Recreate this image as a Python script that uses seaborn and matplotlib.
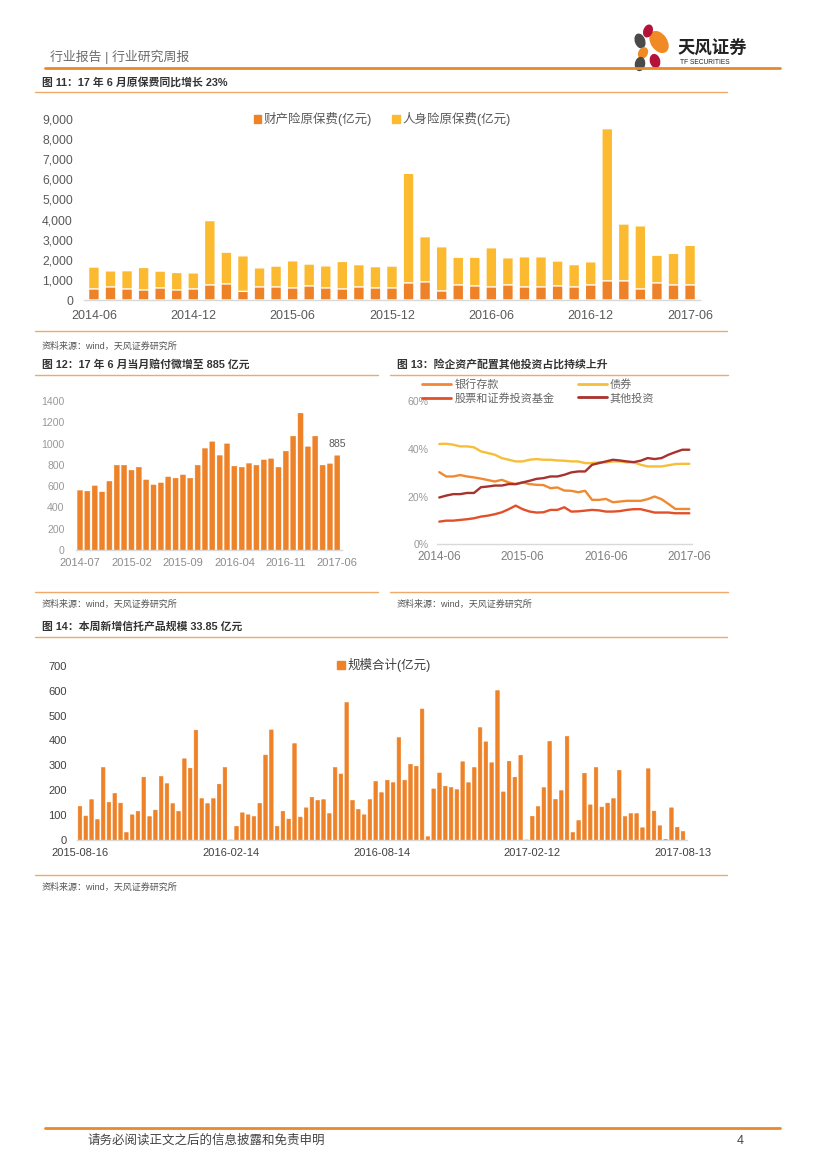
import numpy as np
import pandas as pd
import seaborn as sns
import matplotlib.pyplot as plt
from matplotlib.patches import Ellipse, Rectangle
from matplotlib.lines import Line2D
from matplotlib.ticker import StrMethodFormatter

W, H = 827, 1169

# ---- data: fig 11 (monthly premium income, 2014-06 .. 2017-06)
months11 = pd.period_range('2014-06', '2017-06', freq='M').strftime('%Y-%m').tolist()
prop11 = [550, 650, 550, 500, 600, 500, 550, 750, 800, 430, 650, 650, 600, 700, 600, 550, 650, 600, 600,
          850, 900, 450, 750, 700, 650, 750, 650, 650, 700, 650, 750, 950, 950, 550, 850, 750, 750]
life11 = [1090, 800, 910, 1120, 840, 870, 800, 3200, 1580, 1770, 950, 1040, 1350, 1090, 1100, 1370, 1110, 1060,
          1090, 5450, 2250, 2200, 1380, 1430, 1950, 1350, 1500, 1500, 1240, 1110, 1150, 7570, 2830, 3140, 1380,
          1570, 1970]
ticks11 = ['2014-06', '2014-12', '2015-06', '2015-12', '2016-06', '2016-12', '2017-06']

# ---- data: fig 12 (monthly claims, 2014-07 .. 2017-06)
months12 = pd.period_range('2014-07', '2017-06', freq='M').strftime('%Y-%m').tolist()
claims12 = [558, 552, 602, 545, 645, 796, 796, 749, 777, 658, 611, 630, 686, 674, 705, 674, 796, 953,
            1016, 887, 997, 787, 777, 812, 796, 846, 856, 777, 928, 1069, 1285, 969, 1069, 796, 809, 885]
ticks12 = ['2014-07', '2015-02', '2015-09', '2016-04', '2016-11', '2017-06']

# ---- data: fig 13 (asset allocation share, %, 2014-06 .. 2017-06)
deposit = [30.2, 28.4, 28.4, 29.0, 28.4, 28.0, 27.5, 26.9, 26.3, 27.0, 25.9, 25.2, 25.9, 25.2, 24.9, 24.8,
           23.5, 23.8, 22.5, 22.4, 21.8, 22.4, 18.6, 18.6, 19.0, 17.6, 17.9, 18.2, 18.2, 18.2, 18.9, 20.0,
           18.9, 16.9, 14.8, 14.8, 14.8]
bond = [42.0, 42.1, 41.7, 41.0, 41.0, 40.6, 38.9, 38.2, 37.5, 36.1, 35.4, 34.7, 34.7, 35.4, 35.7, 35.4,
        35.4, 35.1, 35.0, 34.7, 34.7, 34.0, 34.0, 34.3, 34.3, 34.7, 34.7, 34.3, 34.3, 33.3, 32.6, 32.6,
        32.6, 33.1, 33.6, 33.7, 33.7]
stock = [9.5, 9.9, 9.9, 10.2, 10.5, 10.9, 11.6, 12.0, 12.6, 13.4, 14.7, 16.2, 14.7, 13.7, 13.3, 13.4,
         14.4, 14.4, 15.5, 13.7, 13.8, 14.1, 14.4, 14.2, 13.7, 13.7, 13.9, 14.4, 14.7, 14.7, 14.0, 13.3,
         13.3, 13.3, 13.0, 13.0, 13.0]
other = [19.6, 20.4, 21.0, 21.0, 21.5, 21.5, 23.9, 24.2, 24.6, 24.6, 25.2, 25.2, 25.9, 26.6, 27.4, 27.7,
         28.4, 28.4, 29.1, 30.1, 30.5, 30.5, 33.3, 34.0, 34.7, 35.4, 35.1, 34.7, 34.4, 35.0, 36.1, 35.7,
         36.1, 37.5, 38.6, 39.6, 39.6]
ticks13 = ['2014-06', '2015-06', '2016-06', '2017-06']

# ---- data: fig 14 (weekly new trust products, 2015-08-16 .. 2017-08-13)
weeks14 = pd.date_range('2015-08-16', periods=105, freq='7D').strftime('%Y-%m-%d').tolist()
trust14 = [135, 96, 162, 82, 291, 151, 187, 148, 30, 101, 115, 252, 94, 120, 255, 226, 146, 115, 326, 288,
           441, 166, 146, 166, 224, 291, 0, 55, 109, 101, 94, 147, 341, 442, 55, 115, 84, 387, 92, 129,
           171, 159, 162, 106, 291, 265, 552, 159, 123, 101, 162, 235, 190, 240, 230, 411, 240, 304, 296, 526,
           13, 205, 269, 216, 211, 202, 314, 230, 291, 451, 394, 310, 600, 193, 316, 252, 340, 0, 95, 134,
           210, 396, 163, 198, 416, 30, 78, 268, 141, 291, 132, 148, 166, 280, 94, 106, 106, 49, 286, 116,
           57, 2, 129, 51, 34]
ticks14 = ['2015-08-16', '2016-02-14', '2016-08-14', '2017-02-12', '2017-08-13']

ORANGE = '#EE8228'
YELLOW = '#FBBA2F'
LINE = '#F2A869'

sns.set_theme(style='white')
plt.rcParams['font.family'] = ['Liberation Sans', 'Noto Sans CJK SC', 'DejaVu Sans']
plt.rcParams['axes.unicode_minus'] = False

fig = plt.figure(figsize=(W / 100, H / 100), dpi=100)


def rect(x0, y0, x1, y1):
    return [x0 / W, 1 - y1 / H, (x1 - x0) / W, (y1 - y0) / H]


def clean(ax, base='#d9d9d9'):
    for s in ['top', 'right', 'left']:
        ax.spines[s].set_visible(False)
    ax.spines['bottom'].set_color(base)
    ax.spines['bottom'].set_linewidth(1.0)
    ax.tick_params(length=0)
    ax.set_xlabel('')
    ax.set_ylabel('')
    ax.grid(False)
    ax.patch.set_alpha(0)
    for p in ax.patches:
        p.set_snap(False)


# page decorations
bg = fig.add_axes([0, 0, 1, 1])
bg.set_xlim(0, W)
bg.set_ylim(H, 0)
bg.axis('off')

bg.text(50, 57, '行业报告 | 行业研究周报', fontsize=9.3, color='#6b6b6b', va='center')
bg.plot([45, 780], [68, 68], color='#E8892B', lw=2)
for cx, cy, w, h, ang, c in [(659, 42, 15, 23, -35, '#F08A24'), (648, 31, 8, 12, 20, '#B5123A'),
                             (640, 41, 9, 14, -20, '#4a4a4a'), (643, 53, 8, 11, 30, '#F08A24'),
                             (655, 61, 9, 13, -15, '#B5123A'), (640, 64, 9, 13, 10, '#4a4a4a')]:
    bg.add_patch(Ellipse((cx, cy), w, h, angle=ang, color=c))
bg.text(678, 48, '天风证券', fontsize=12.5, weight='bold', color='#222222', va='center')
bg.text(680, 63, 'TF SECURITIES', fontsize=4.8, color='#222222', va='center')

# titles, separator lines, sources
bg.text(42, 82, '图 11：17 年 6 月原保费同比增长 23%', fontsize=7.8, weight='bold', color='#333333', va='center')
bg.plot([35, 727], [92, 92], color=LINE, lw=1)
bg.plot([35, 727], [331, 331], color=LINE, lw=1)
bg.text(42, 346, '资料来源：wind，天风证券研究所', fontsize=6.5, color='#555555', va='center')

bg.text(42, 364, '图 12：17 年 6 月当月赔付微增至 885 亿元', fontsize=7.8, weight='bold', color='#333333', va='center')
bg.text(397, 364, '图 13：险企资产配置其他投资占比持续上升', fontsize=7.8, weight='bold', color='#333333', va='center')
bg.plot([35, 378], [375, 375], color=LINE, lw=1)
bg.plot([390, 728], [375, 375], color=LINE, lw=1)
bg.plot([35, 378], [592, 592], color=LINE, lw=1)
bg.plot([390, 728], [592, 592], color=LINE, lw=1)
bg.text(42, 604, '资料来源：wind，天风证券研究所', fontsize=6.5, color='#555555', va='center')
bg.text(397, 604, '资料来源：wind，天风证券研究所', fontsize=6.5, color='#555555', va='center')

bg.text(42, 626, '图 14：本周新增信托产品规模 33.85 亿元', fontsize=7.8, weight='bold', color='#333333', va='center')
bg.plot([35, 727], [637, 637], color=LINE, lw=1)
bg.plot([35, 727], [875, 875], color=LINE, lw=1)
bg.text(42, 887, '资料来源：wind，天风证券研究所', fontsize=6.5, color='#555555', va='center')

bg.plot([45, 780], [1128, 1128], color='#E8892B', lw=2)
bg.text(88, 1141, '请务必阅读正文之后的信息披露和免责申明', fontsize=9, color='#444444', va='center')
bg.text(737, 1141, '4', fontsize=9, color='#444444', va='center')

# ---- fig 11: stacked bars
df11 = pd.DataFrame({'month': months11, 'prop': prop11, 'life': life11})
df11['total'] = df11['prop'] + df11['life']
ax11 = fig.add_axes(rect(84, 119, 700, 300))
sns.barplot(data=df11, x='month', y='total', color=YELLOW, saturation=1, width=0.65, ax=ax11)
sns.barplot(data=df11, x='month', y='prop', color=ORANGE, saturation=1, width=0.65, ax=ax11)
clean(ax11)
ax11.set_ylim(0, 9000)
ax11.set_xlim(-0.6, len(months11) - 0.4)
ax11.set_yticks(range(0, 9001, 1000))
ax11.yaxis.set_major_formatter(StrMethodFormatter('{x:,.0f}'))
ax11.set_xticks([months11.index(t) for t in ticks11])
ax11.set_xticklabels(ticks11)
ax11.tick_params(axis='y', labelsize=8.8, labelcolor='#595959', pad=8)
ax11.tick_params(axis='x', labelsize=9, labelcolor='#595959', pad=7)
h11 = [Rectangle((0, 0), 1, 1, color=ORANGE), Rectangle((0, 0), 1, 1, color=YELLOW)]
fig.legend(h11, ['财产险原保费(亿元)', '人身险原保费(亿元)'], loc='center', bbox_to_anchor=(382 / W, 1 - 119 / H),
           ncol=2, frameon=False, fontsize=9, handlelength=0.6, handleheight=0.6, handletextpad=0.2,
           columnspacing=1.6, labelcolor='#595959')

# ---- fig 12: monthly claims
df12 = pd.DataFrame({'month': months12, 'claims': claims12})
ax12 = fig.add_axes(rect(75.6, 401, 341.7, 550))
sns.barplot(data=df12, x='month', y='claims', color=ORANGE, saturation=1, width=0.68,
            edgecolor=ORANGE, linewidth=0.3, ax=ax12)
clean(ax12)
ax12.set_ylim(0, 1400)
ax12.set_xlim(-0.6, len(months12) - 0.4)
ax12.set_yticks(range(0, 1401, 200))
ax12.set_xticks([months12.index(t) for t in ticks12])
ax12.set_xticklabels(ticks12)
ax12.tick_params(axis='y', labelsize=7.6, labelcolor='#999999', pad=8)
ax12.tick_params(axis='x', labelsize=8, labelcolor='#8c8c8c', pad=6)
ax12.text(len(claims12) - 1, claims12[-1] + 60, f'{claims12[-1]}', ha='center', va='bottom',
          fontsize=7.6, color='#595959')

# ---- fig 13: allocation lines
series13 = {'银行存款': deposit, '股票和证券投资基金': stock, '债券': bond, '其他投资': other}
pal13 = {'银行存款': '#EF8A33', '股票和证券投资基金': '#E2502A', '债券': '#F7BE38', '其他投资': '#A8322D'}
df13 = pd.DataFrame([{'idx': i, 'name': k, 'value': v} for k, vals in series13.items() for i, v in enumerate(vals)])
ax13 = fig.add_axes(rect(437, 401, 692, 544.3))
sns.lineplot(data=df13, x='idx', y='value', hue='name', palette=pal13, linewidth=1.7, ax=ax13, legend=False)
clean(ax13)
ax13.set_ylim(0, 60)
ax13.set_xlim(-0.33, 36.39)
ax13.set_yticks([0, 20, 40, 60])
ax13.set_yticklabels(['0%', '20%', '40%', '60%'])
ax13.set_xticks([0, 12, 24, 36])
ax13.set_xticklabels(ticks13)
ax13.tick_params(axis='y', labelsize=7.6, labelcolor='#999999', pad=6)
ax13.tick_params(axis='x', labelsize=8.6, labelcolor='#7f7f7f', pad=5)
h13 = [Line2D([0], [0], color=pal13[k], lw=2) for k in series13]
fig.legend(h13, list(series13), loc='upper left', bbox_to_anchor=(412 / W, 1 - 369 / H), ncol=2,
           frameon=False, fontsize=8, handlelength=2.6, handletextpad=0.3, columnspacing=2.1,
           labelspacing=0.3, labelcolor='#666666')

# ---- fig 14: weekly trust products
df14 = pd.DataFrame({'week': weeks14, 'scale': trust14})
ax14 = fig.add_axes(rect(76.5, 665.7, 686.5, 840))
sns.barplot(data=df14, x='week', y='scale', color=ORANGE, saturation=1, width=0.62,
            edgecolor=ORANGE, linewidth=0.4, ax=ax14)
clean(ax14)
ax14.set_ylim(0, 700)
ax14.set_xlim(-0.6, len(weeks14) - 0.4)
ax14.set_yticks(range(0, 701, 100))
ax14.set_xticks([weeks14.index(t) for t in ticks14])
ax14.set_xticklabels(ticks14)
ax14.tick_params(axis='y', labelsize=8, labelcolor='#404040', pad=7)
ax14.tick_params(axis='x', labelsize=8, labelcolor='#404040', pad=6)
fig.legend([Rectangle((0, 0), 1, 1, color=ORANGE)], ['规模合计(亿元)'], loc='center',
           bbox_to_anchor=(384 / W, 1 - 665 / H), frameon=False, fontsize=9, handlelength=0.6,
           handleheight=0.6, handletextpad=0.2, labelcolor='#404040')

fig.savefig('out.png', dpi=100, facecolor='white')
